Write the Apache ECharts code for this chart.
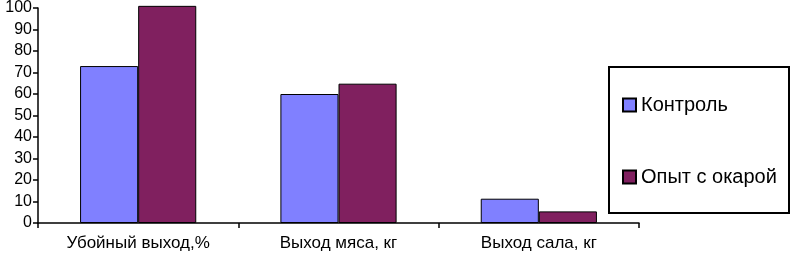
<!DOCTYPE html>
<html>
<head>
<meta charset="utf-8">
<script src="https://cdn.jsdelivr.net/npm/echarts@6/dist/echarts.min.js"></script>
<style>
html,body{margin:0;padding:0;background:#fff;}
#c{width:791px;height:254px;}
</style>
</head>
<body>
<div id="c"></div>
<script>
var categories = ['Убойный выход,%', 'Выход мяса, кг', 'Выход сала, кг'];
var seriesNames = ['Контроль', 'Опыт с окарой'];
var controlValues = [73, 60, 11.3];
var okaraValues = [101, 64.8, 5.4];
var yTicks = {min: 0, max: 100, interval: 10};

var chart = echarts.init(document.getElementById('c'));
var font = 'Liberation Sans, Arial, sans-serif';
chart.setOption({
  animation: false,
  backgroundColor: '#fff',
  grid: {left: 38, right: 152, top: 5, bottom: 31, containLabel: false},
  xAxis: {
    type: 'category',
    data: categories,
    axisLine: {lineStyle: {color: '#000', width: 1.5}},
    axisTick: {show: true, length: 5, interval: 0, alignWithLabel: false, lineStyle: {color: '#000', width: 1.5}},
    axisLabel: {color: '#000', fontFamily: font, fontSize: 17, margin: 12, interval: 0}
  },
  yAxis: {
    type: 'value',
    min: yTicks.min, max: yTicks.max, interval: yTicks.interval,
    axisLine: {show: true, lineStyle: {color: '#000', width: 1.5}},
    axisTick: {show: true, length: 5, lineStyle: {color: '#000', width: 1.5}},
    splitLine: {show: false},
    axisLabel: {color: '#000', fontFamily: font, fontSize: 16, margin: 6}
  },
  legend: {
    orient: 'vertical',
    left: 622, top: 95,
    itemWidth: 13, itemHeight: 13,
    itemGap: 52,
    icon: 'rect',
    padding: 0,
    textStyle: {color: '#000', fontFamily: font, fontSize: 20, lineHeight: 20},
    data: seriesNames
  },
  graphic: [{
    type: 'rect',
    shape: {x: 609, y: 67, width: 180, height: 146},
    style: {fill: 'none', stroke: '#000', lineWidth: 2},
    z: 100
  }],
  series: [{
    name: seriesNames[0], type: 'bar', data: controlValues,
    barGap: '0%', barCategoryGap: '42%', clip: false,
    itemStyle: {color: '#8080ff', borderColor: '#000', borderWidth: 1}
  }, {
    name: seriesNames[1], type: 'bar', data: okaraValues,
    barGap: '0%', barCategoryGap: '42%', clip: false,
    itemStyle: {color: '#80205f', borderColor: '#000', borderWidth: 1}
  }]
});
</script>
</body>
</html>
